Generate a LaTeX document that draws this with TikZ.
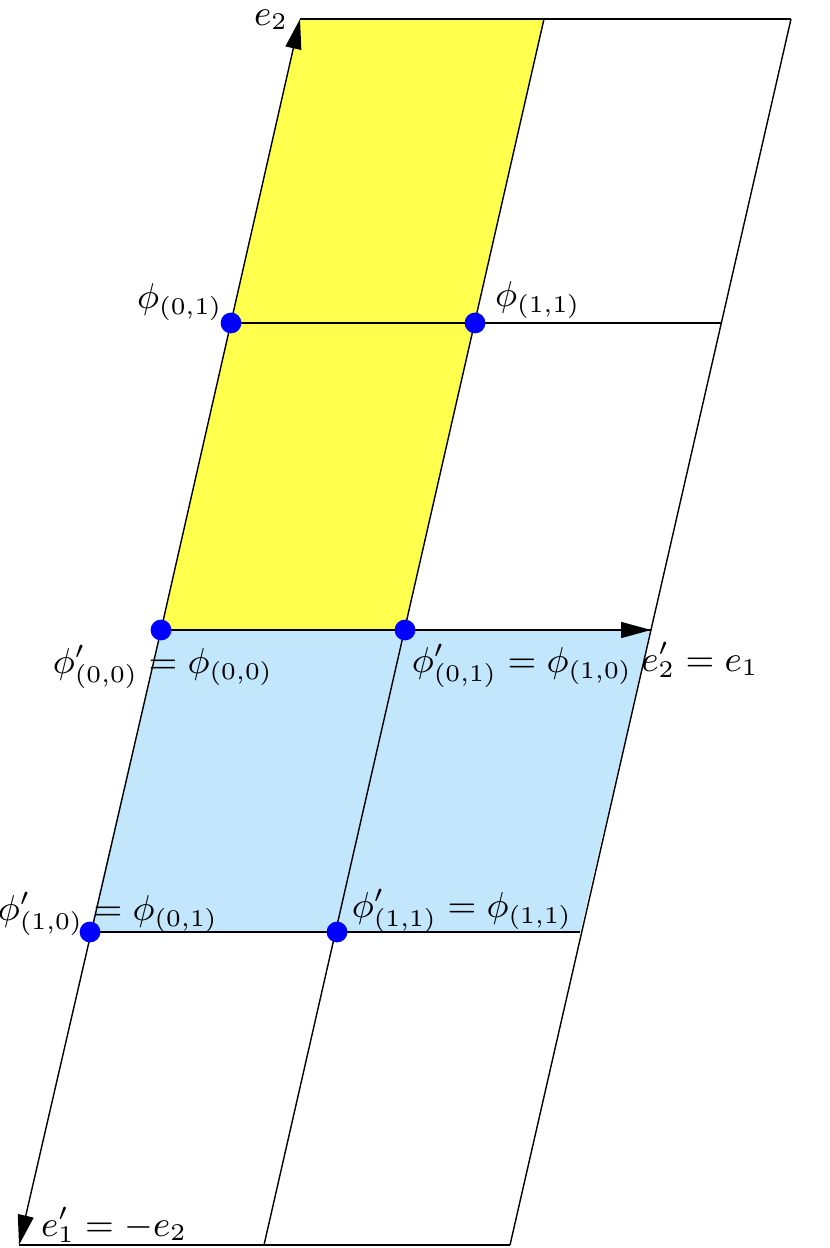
\documentclass[tikz,border=0pt]{standalone}
\usetikzlibrary{arrows.meta}
\definecolor{yfill}{RGB}{255,255,77}
\definecolor{bfill}{RGB}{194,230,252}
\begin{document}
\begin{tikzpicture}[x=0.25pt,y=-0.25pt,
  grid/.style={line width=0.35pt,black},
  arr/.style={line width=0.35pt,-{Triangle[length=7.5pt,width=4pt]}},
  dot/.style={circle,fill=blue,inner sep=0pt,minimum size=5.2pt},
  lab/.style={inner sep=0pt,anchor=center,font=\fontsize{9}{11}\selectfont}]
\useasboundingbox (0,0) rectangle (830,1248);
% lattice points
\coordinate (a0) at (300,19);  \coordinate (a1) at (544,19);  \coordinate (a2) at (791,19);
\coordinate (b0) at (231,323); \coordinate (b1) at (475,323); \coordinate (b2) at (722,323);
\coordinate (c0) at (161,630); \coordinate (c1) at (405,630); \coordinate (c2) at (651,630);
\coordinate (d0) at (90,932);  \coordinate (d1) at (337,932); \coordinate (d2) at (580,932);
\coordinate (e0) at (19,1245); \coordinate (e1) at (264,1245);\coordinate (e2) at (510,1245);
% fills
\fill[yfill] (a0) -- (a1) -- (c1) -- (c0) -- cycle;
\fill[bfill] (c0) -- (c2) -- (d2) -- (d0) -- cycle;
% grid lines
\draw[grid] (a0) -- (a2);
\draw[grid] (b0) -- (b2);
\draw[grid] (c0) -- (c2);
\draw[grid] (d0) -- (d2);
\draw[grid] (e0) -- (e2);
\draw[grid] (a1) -- (e1);
\draw[grid] (a2) -- (e2);
% arrows
\draw[arr] (c0) -- (a0);
\draw[arr] (c0) -- (e0);
\draw[arr] (c0) -- (c2);
% dots
\node[dot] (p01) at (b0) {};
\node[dot] (p11) at (b1) {};
\node[dot] (p00) at (c0) {};
\node[dot] (p10) at (c1) {};
\node[dot] (q10) at (d0) {};
\node[dot] (q11) at (d1) {};
% labels
\node[lab] (le2) at (271,20) {$e_2$};
\node[lab] (l01) at (180,302) {$\phi_{(0,1)}$};
\node[lab] (l11) at (538,300) {$\phi_{(1,1)}$};
\node[lab] (l00p) at (163,667) {$\phi'_{(0,0)} = \phi_{(0,0)}$};
\node[lab] (l01p) at (522,666) {$\phi'_{(0,1)} = \phi_{(1,0)}$};
\node[lab] (le2p) at (700,660) {$e'_2 = e_1$};
\node[lab] (l10p) at (108,914) {$\phi'_{(1,0)} = \phi_{(0,1)}$};
\node[lab] (l11p) at (462,911) {$\phi'_{(1,1)} = \phi_{(1,1)}$};
\node[lab] (le1p) at (114,1225) {$e'_1 = -e_2$};
\end{tikzpicture}
\end{document}
